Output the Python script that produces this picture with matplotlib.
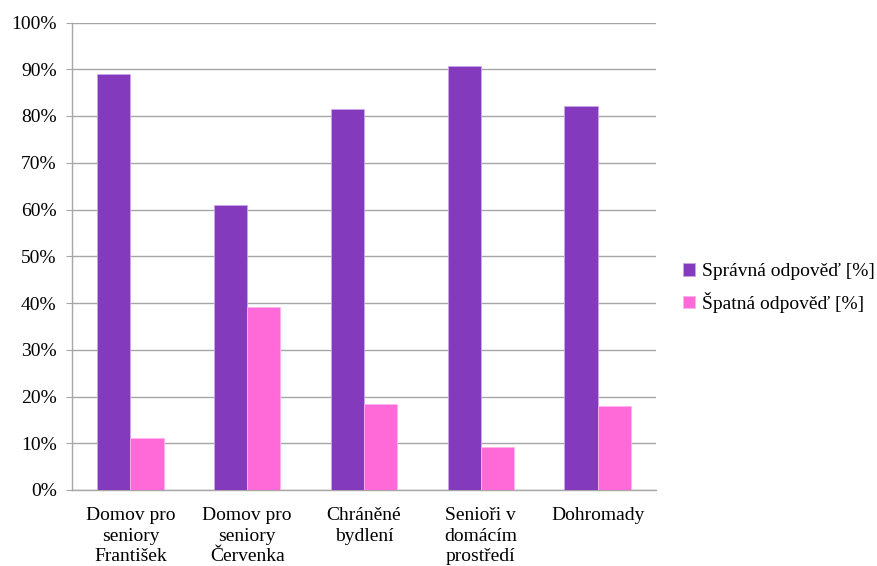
import matplotlib
matplotlib.use("Agg")
import matplotlib.pyplot as plt
import numpy as np
from matplotlib.ticker import MultipleLocator, FuncFormatter

categories = ["Domov pro\nseniory\nFrantišek", "Domov pro\nseniory\nČervenka",
              "Chráněné\nbydlení", "Senioři v\ndomácím\nprostředí", "Dohromady"]
spravna = [88.9, 60.9, 81.5, 90.7, 82.1]
spatna = [11.1, 39.1, 18.5, 9.3, 17.9]
series_names = ["Správná odpověď [%]", "Špatná odpověď [%]"]

plt.rcParams['font.family'] = ['Liberation Serif', 'DejaVu Serif']

fig = plt.figure(figsize=(8.77, 5.66), dpi=100)
ax = fig.add_axes([72/877, 1-490/566, (656-72)/877, (490-22.5)/566])

x = np.arange(len(categories))
w = 0.285
purple = "#843ABD"
pink = "#FF6AD8"
ax.bar(x - w/2, spravna, w, color=purple, edgecolor="#C9A6E6", linewidth=0.6, label=series_names[0], zorder=3)
ax.bar(x + w/2, spatna, w, color=pink, edgecolor="#FFB3EC", linewidth=0.6, label=series_names[1], zorder=3)

ax.set_xlim(-0.5, len(categories) - 0.5)
ax.set_ylim(0, 100)
ax.yaxis.set_major_locator(MultipleLocator(10))
ax.yaxis.set_major_formatter(FuncFormatter(lambda v, p: f"{int(round(v))}%"))
ax.grid(axis='y', color="#A6A6A6", linewidth=1.0, zorder=0)
ax.set_axisbelow(True)

for s in ['top', 'right']:
    ax.spines[s].set_visible(False)
for s in ['left', 'bottom']:
    ax.spines[s].set_color("#A6A6A6")
    ax.spines[s].set_linewidth(1.0)

ax.set_xticks(x)
ax.set_xticklabels(categories, fontsize=14, linespacing=1.3, va='top')
ax.tick_params(axis='x', length=0, pad=12)
ax.tick_params(axis='y', length=4, color="#A6A6A6", labelsize=14, pad=7)

leg = fig.legend(loc='center left', bbox_to_anchor=(683/877, 1-288/566), frameon=False,
                 fontsize=14, handlelength=0.6, handleheight=0.6, handletextpad=0.4,
                 labelspacing=0.6, borderpad=0, borderaxespad=0)

fig.savefig("out.png", dpi=100)
